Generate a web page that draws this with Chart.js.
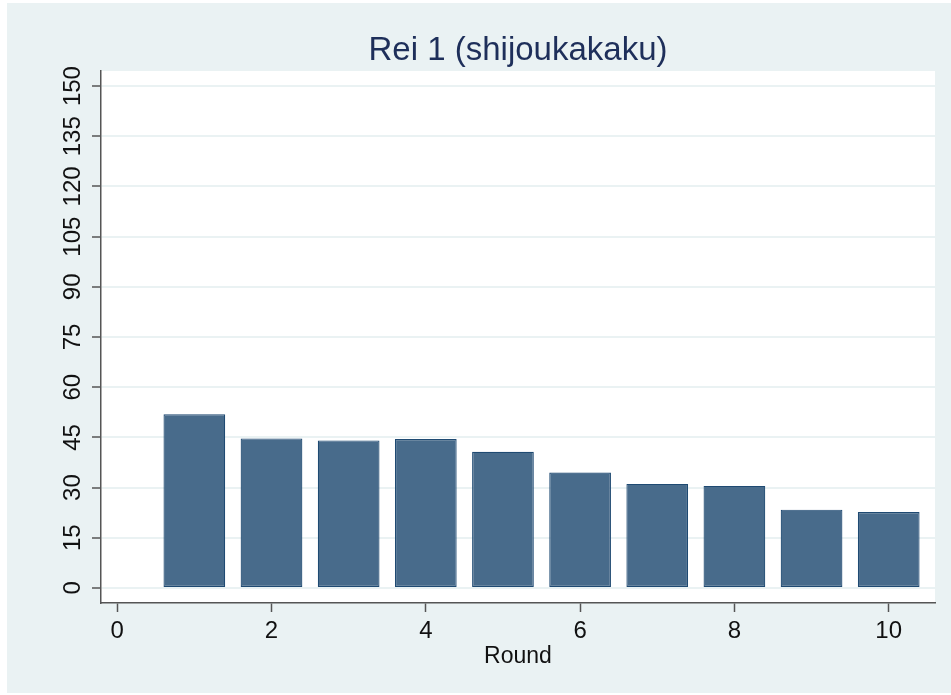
<!DOCTYPE html>
<html>
<head>
<meta charset="utf-8">
<script src="https://cdn.jsdelivr.net/npm/chart.js@4/dist/chart.umd.min.js"></script>
<style>
  html, body { margin: 0; padding: 0; background: #ffffff; }
  #wrap { width: 951px; height: 695px; position: relative; }
</style>
</head>
<body>
<div id="wrap"><canvas id="c" width="951" height="695"></canvas></div>
<script>
const chartTitle = "Rei 1 (shijoukakaku)";
const xAxisTitle = "Round";
const rounds = [1, 2, 3, 4, 5, 6, 7, 8, 9, 10];
const prices = [51.9, 44.7, 44.1, 44.5, 40.7, 34.5, 31.1, 30.5, 23.4, 22.7];
const xTickValues = [0, 2, 4, 6, 8, 10];
const yTickValues = [0, 15, 30, 45, 60, 75, 90, 105, 120, 135, 150];

const FONT = "'Liberation Sans', Arial, Helvetica, sans-serif";

const bgPlugin = {
  id: 'bg',
  beforeDraw(chart) {
    const ctx = chart.ctx;
    const a = chart.chartArea;
    ctx.save();
    ctx.fillStyle = '#ffffff';
    ctx.fillRect(0, 0, chart.width, chart.height);
    ctx.fillStyle = '#eaf2f3';
    ctx.fillRect(7, 3, chart.width - 7, chart.height - 5);
    ctx.fillStyle = '#ffffff';
    ctx.fillRect(a.left, a.top, a.right - a.left, a.bottom - a.top);
    ctx.restore();
  }
};

new Chart(document.getElementById('c'), {
  type: 'bar',
  data: {
    datasets: [{
      data: rounds.map((r, i) => ({ x: r, y: prices[i] })),
      backgroundColor: '#486b8b',
      borderColor: '#1f4a72',
      borderWidth: 1.2,
      borderSkipped: false,
      barPercentage: 0.8,
      categoryPercentage: 1.0
    }]
  },
  plugins: [bgPlugin],
  options: {
    responsive: false,
    animation: false,
    devicePixelRatio: 1,
    layout: { padding: { top: 0.4, right: 16, bottom: 0, left: 0 } },
    plugins: {
      legend: { display: false },
      tooltip: { enabled: false },
      title: {
        display: true,
        text: chartTitle,
        fullSize: false,
        color: '#1e2f5a',
        font: { family: FONT, size: 33, weight: 'normal', lineHeight: 1.2 },
        padding: { top: 31, bottom: 0 }
      }
    },
    scales: {
      x: {
        type: 'linear',
        offset: false,
        min: -0.21,
        max: 10.6,
        afterFit(scale) { scale.height = 92; },
        afterBuildTicks(scale) { scale.ticks = xTickValues.map(v => ({ value: v })); },
        ticks: {
          includeBounds: false,
          stepSize: 2,
          autoSkip: false,
          maxRotation: 0,
          color: '#111111',
          padding: 5,
          font: { family: FONT, size: 24 }
        },
        grid: {
          display: true,
          offset: false,
          drawOnChartArea: false,
          drawTicks: true,
          tickLength: 9,
          tickColor: '#555555',
          tickWidth: 1.5
        },
        border: { display: true, color: '#555555', width: 1.5 },
        title: {
          display: true,
          text: xAxisTitle,
          color: '#111111',
          font: { family: FONT, size: 23 },
          padding: { top: 0, bottom: 25 }
        }
      },
      y: {
        type: 'linear',
        min: -4.5,
        max: 154.5,
        afterFit(scale) { scale.width = 101; },
        afterBuildTicks(scale) { scale.ticks = yTickValues.map(v => ({ value: v })); },
        ticks: {
          includeBounds: false,
          stepSize: 15,
          autoSkip: false,
          minRotation: 90,
          maxRotation: 90,
          crossAlign: 'center',
          color: '#111111',
          padding: -1,
          font: { family: FONT, size: 24 }
        },
        grid: {
          display: true,
          color: '#eaf2f3',
          lineWidth: 2,
          drawTicks: true,
          tickLength: 9,
          tickColor: '#555555',
          tickWidth: 1.5
        },
        border: { display: true, color: '#555555', width: 1.5 }
      }
    }
  }
});
</script>
</body>
</html>
